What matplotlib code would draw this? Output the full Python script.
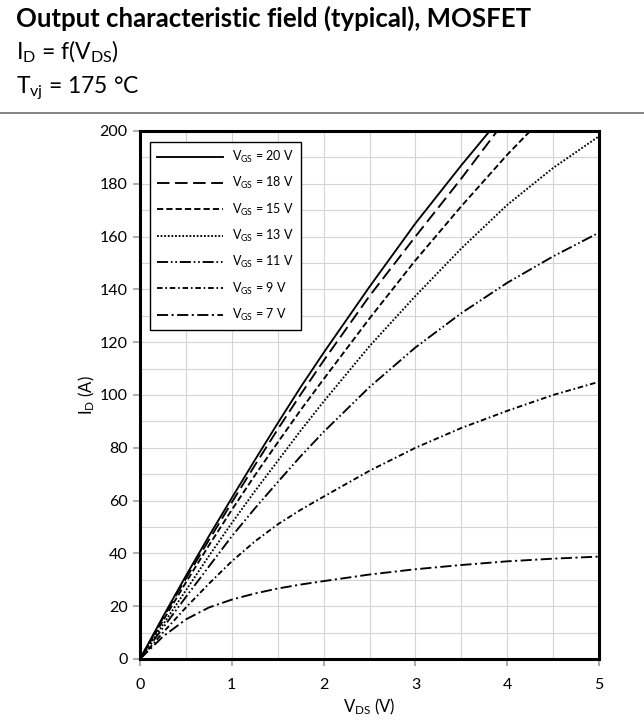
import numpy as np
import matplotlib
matplotlib.use("Agg")
import matplotlib.pyplot as plt

plt.rcParams['font.family'] = ['Lato', 'DejaVu Sans']
plt.rcParams['mathtext.fontset'] = 'custom'
plt.rcParams['mathtext.rm'] = 'Lato'
plt.rcParams['mathtext.it'] = 'Lato:italic'
plt.rcParams['lines.scale_dashes'] = False

# V_DS (V)
vds = [0, 0.25, 0.5, 0.75, 1, 1.25, 1.5, 1.75, 2, 2.5, 3, 3.5, 4, 4.5, 5]

# I_D (A) for each gate voltage (curves leaving the top are clipped at 200 A)
id_20 = [0, 16, 31.5, 46.5, 61, 75.3, 89.3, 103, 116, 141, 165, 187, 208]
id_18 = [0, 15.5, 30.5, 45, 59.3, 73.3, 87, 100.2, 113, 137.5, 160, 182, 205]
id_15 = [0, 14.5, 29, 43, 56.5, 69.5, 82, 94.3, 106, 129, 151, 171.5, 191, 209]
id_13 = [0, 13, 26, 39, 51.5, 63.5, 75, 86.5, 97.5, 118.5, 137.5, 155.5, 172, 186, 198]
id_11 = [0, 11.8, 23.5, 35, 46.5, 57, 67, 76.8, 86, 103, 118, 131, 142.5, 152.5, 161.5]
id_9 = [0, 10, 19.5, 28.5, 37, 44.5, 51, 56.5, 61.5, 71.3, 80, 87.5, 94, 100, 105]
id_7 = [0, 8.5, 15, 19.5, 22.5, 24.8, 26.7, 28.2, 29.5, 32, 34, 35.6, 37, 38, 38.8]

vgs_labels = ['20', '18', '15', '13', '11', '9', '7']
curves = [id_20, id_18, id_15, id_13, id_11, id_9, id_7]
styles = [
    '-',
    (0, (9, 4)),
    (0, (4.5, 2.2)),
    (0, (1.3, 1.3)),
    (0, (8, 2, 1.2, 2, 1.2, 2)),
    (0, (4, 2, 1.2, 2)),
    (0, (8, 2.5, 1.5, 2.5)),
]

fig = plt.figure(figsize=(6.44, 7.28), dpi=100)

# header texts
fig.text(16 / 644, 1 - 18 / 728, 'Output characteristic field (typical), MOSFET',
         fontsize=18.5, fontweight='bold', va='center', ha='left')
fig.text(16 / 644, 1 - 52 / 728, r'I$_\mathrm{D}$ = f(V$_\mathrm{DS}$)',
         fontsize=16.5, va='center', ha='left')
fig.text(16 / 644, 1 - 88 / 728, r'T$_\mathrm{vj}$ = 175 °C',
         fontsize=16.5, va='center', ha='left')
fig.add_artist(plt.Line2D([0, 1], [1 - 113 / 728, 1 - 113 / 728],
                          color='#707070', lw=1.2, transform=fig.transFigure))

ax = fig.add_axes([140 / 644, 1 - 659 / 728, 459 / 644, 528 / 728])

for lbl, y, ls in zip(vgs_labels, curves, styles):
    ax.plot(vds[:len(y)], y, color='black', lw=1.35, linestyle=ls,
            label=r'V$_\mathrm{GS}$ = ' + lbl + ' V', zorder=3)

ax.set_xlim(0, 5)
ax.set_ylim(0, 200)
ax.set_xticks(np.arange(0, 6, 1))
ax.set_yticks(np.arange(0, 201, 20))
ax.set_xticks(np.arange(0, 5.01, 0.5), minor=True)
ax.set_yticks(np.arange(0, 201, 10), minor=True)
ax.grid(True, which='both', color='#d4d4d4', lw=0.8, zorder=0)
ax.tick_params(which='major', direction='out', length=5, width=1.2,
               color='#a0a0a0', labelsize=11.5)
ax.tick_params(axis='x', pad=9)
ax.tick_params(axis='y', pad=4)
ax.tick_params(which='minor', length=0)
for sp in ax.spines.values():
    sp.set_linewidth(2.2)
    sp.set_color('black')

ax.set_xlabel(r'V$_\mathrm{DS}$ (V)', fontsize=12, labelpad=3)
ax.set_ylabel(r'I$_\mathrm{D}$ (A)', fontsize=12, labelpad=2)

leg = ax.legend(loc='upper left', bbox_to_anchor=(10 / 459, 1 - 11 / 528),
                borderaxespad=0, fontsize=9, handlelength=5.3, handletextpad=0.7,
                labelspacing=0.82, borderpad=0.55, fancybox=False,
                edgecolor='black', framealpha=1)
leg.get_frame().set_linewidth(1.0)

fig.savefig('out.png', dpi=100)
